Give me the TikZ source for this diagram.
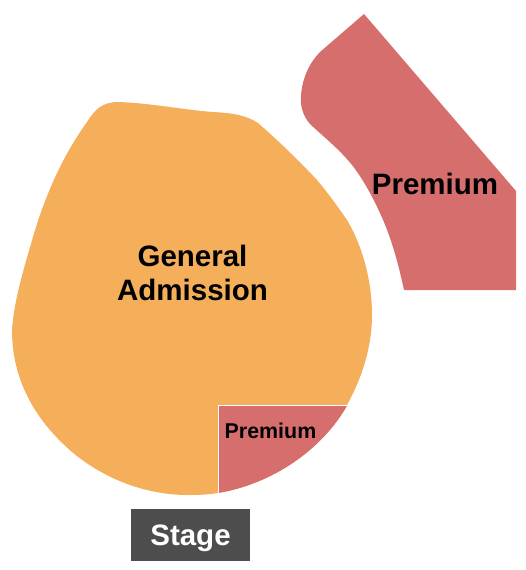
\documentclass[tikz,border=0pt]{standalone}
\usepackage{fontspec}
\setmainfont{Liberation Sans}
\definecolor{ga}{HTML}{F5AE5A}
\definecolor{prem}{HTML}{D76E6E}
\definecolor{stagegray}{HTML}{4D4D4D}
\tikzset{x=1pt,y=-1pt,
  lbl/.style={font=\bfseries\fontsize{#1}{#1}\selectfont,inner sep=0pt,text=black,align=center}}
\begin{document}
\begin{tikzpicture}
\useasboundingbox (0,0) rectangle (525,570);
% general admission
\fill[ga] (12,330)
  .. controls (14,300) and (24,268) .. (33,237)
  .. controls (40,213) and (49,189) .. (60,167)
  .. controls (68,151) and (77,136) .. (87,122)
  .. controls (95,109) and (103,102) .. (118,102)
  .. controls (150,103) and (185,110) .. (213,112)
  .. controls (232,113) and (246,115) .. (258,123)
  .. controls (280,142) and (304,166) .. (317,180)
  .. controls (328,193) and (338,207) .. (347,220)
  .. controls (362,245) and (372,280) .. (372,315)
  .. controls (372,347) and (362,378) .. (347,405)
  .. controls (322,450) and (272,484) .. (218,493)
  .. controls (205,495) and (195,495) .. (188,495)
  .. controls (150,495) and (108,482) .. (72,452)
  .. controls (35,420) and (12,380) .. (12,330) -- cycle;
% small premium
\fill[prem] (218,405) -- (347.5,405)
  .. controls (322,450) and (272,484) .. (218,493) -- cycle;
\draw[white,line width=1pt] (347.5,405) -- (218,405) -- (218,493);
% large premium
\fill[prem] (364,14) -- (516,191) -- (516,290) -- (404,290)
  .. controls (398,262) and (391,237) .. (380,213)
  .. controls (372,196) and (363,179) .. (352,165)
  .. controls (340,150) and (325,138) .. (310,124)
  .. controls (303,116) and (300,106) .. (301,96)
  .. controls (302,78) and (310,62) .. (320,52) -- cycle;
% stage
\node[fill=stagegray,minimum width=119pt,minimum height=52pt,inner sep=0pt] (stage) at (190.5,535) {};
\node[lbl=29.5,text=white] (stagetext) at (190.5,538) {Stage};
\node[lbl=29.5] (ga) at (192.5,272.5) {General\\[4.5pt]Admission};
\node[lbl=29.5] (p1) at (435,184) {Premium};
\node[lbl=21.4] (p2) at (270.5,431) {Premium};
\end{tikzpicture}
\end{document}
